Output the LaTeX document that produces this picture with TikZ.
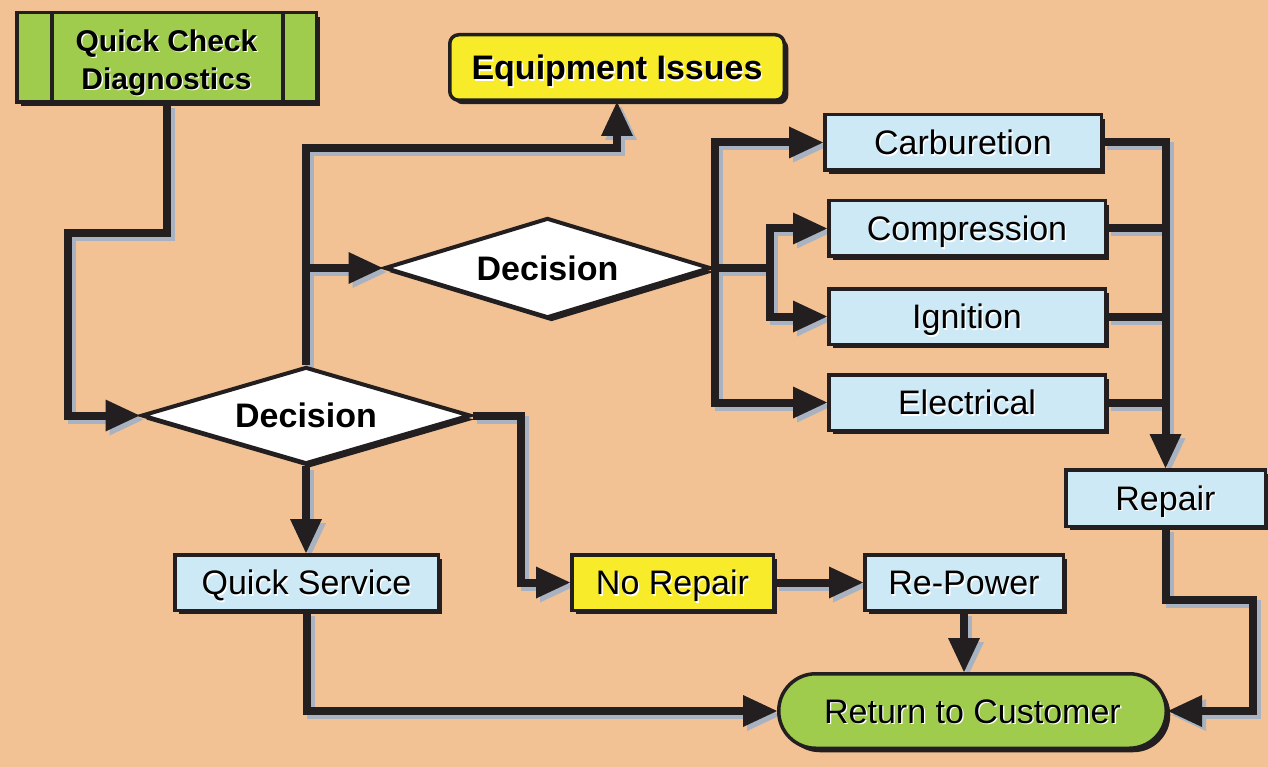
\documentclass[tikz,border=0pt]{standalone}
\usepackage{fontspec}
\setmainfont{Liberation Sans}
\usetikzlibrary{arrows.meta,shapes.geometric,shadows}
\definecolor{bgc}{RGB}{242,194,149}
\definecolor{grn}{RGB}{160,204,78}
\definecolor{ylw}{RGB}{248,236,42}
\definecolor{lbl}{RGB}{204,233,245}
\definecolor{drk}{RGB}{35,31,32}
\definecolor{lshc}{RGB}{168,178,192}
\pgfdeclarelayer{bglayer}
\pgfdeclarelayer{shlayer}
\pgfsetlayers{bglayer,shlayer,main}
\newcommand\st[1]{\leavevmode\rlap{\kern1.3pt\raisebox{-1.3pt}{\color{white}#1}}#1}
\newcommand\conn[2][]{%
  \begin{pgfonlayer}{shlayer}\draw[lineshadow,#1] #2;\end{pgfonlayer}%
  \draw[lineblack,#1] #2;}
\tikzset{
  lineblack/.style={draw=drk,line width=8pt,line join=miter},
  lineshadow/.style={draw=lshc,line width=8pt,line join=miter,transform canvas={xshift=4pt,yshift=-4pt}},
  withtip/.style={-{Triangle[length=34pt 0 0,width=32pt 0 0,line width=0pt 0 0]}},
  box/.style={draw=drk,line width=3.5pt,inner sep=0pt,text height=24.5pt,text depth=0pt,
    font=\fontsize{34}{38}\selectfont,
    drop shadow={shadow xshift=4pt,shadow yshift=-4pt,opacity=1,fill=drk}},
  bluebox/.style={box,fill=lbl,minimum width=276.5pt,minimum height=55.5pt},
  dia/.style={diamond,draw=drk,fill=white,line width=4pt,inner sep=0pt,shape aspect=3.3,
    text height=24.5pt,text depth=0pt,
    font=\bfseries\fontsize{34}{38}\selectfont,
    drop shadow={shadow xshift=4pt,shadow yshift=-4pt,opacity=1,fill=drk}}
}
\begin{document}
\begin{tikzpicture}[x=1pt,y=-1pt]
\useasboundingbox (0,0) rectangle (1268,767);
\begin{pgfonlayer}{bglayer}\fill[bgc] (0,0) rectangle (1268,767);\end{pgfonlayer}

% nodes
\node[box,fill=grn,minimum width=299.5pt,minimum height=89.5pt,align=center,
  text height=64pt,text depth=0pt,
  font=\bfseries\fontsize{30}{38}\selectfont] (qcd) at (166.5,57.5) {\st{Quick Check}\\\st{Diagnostics}};
\draw[drk,line width=3.5pt] ([xshift=37pt]qcd.north west) -- ([xshift=37pt]qcd.south west);
\draw[drk,line width=3.5pt] ([xshift=-35pt]qcd.north east) -- ([xshift=-35pt]qcd.south east);

\node[box,fill=ylw,rounded corners=9pt,minimum width=334.5pt,minimum height=65.5pt,
  font=\bfseries\fontsize{34}{38}\selectfont] (ei) at (617,67.5) {\st{Equipment Issues}};

\node[dia,minimum width=326pt,minimum height=100pt] (d1) at (547.5,268) {\st{Decision}};
\node[dia,minimum width=329pt,minimum height=97pt] (d2) at (306,415.5) {\st{Decision}};

\node[bluebox] (carb) at (963,142.5) {\st{Carburetion}};
\node[bluebox] (comp) at (967,228.5) {\st{Compression}};
\node[bluebox] (ign) at (967,316.5) {\st{Ignition}};
\node[bluebox] (elec) at (967,402.5) {\st{Electrical}};

\node[box,fill=lbl,minimum width=199.5pt,minimum height=56.5pt] (rep) at (1165.5,498) {\st{Repair}};
\node[box,fill=lbl,minimum width=263.5pt,minimum height=55.5pt] (qs) at (306.5,582.5) {\st{Quick Service}};
\node[box,fill=ylw,minimum width=201.5pt,minimum height=55.5pt] (nr) at (672.5,582.5) {\st{No Repair}};
\node[box,fill=lbl,minimum width=198.5pt,minimum height=55.5pt] (rp) at (964,582.5) {\st{Re-Power}};
\node[box,fill=grn,rounded corners=37pt,minimum width=387.5pt,minimum height=74.5pt] (rc) at (972.5,711) {\st{Return to Customer}};

% bend coordinates
\coordinate (q1) at (68,233);
\coordinate (t1) at (715,268);
\coordinate (t2) at (770,268);
\coordinate (r1) at (1253,600);

% connectors
\conn[withtip]{(qcd.south) |- (q1) |- (d2.west)}
\conn[withtip]{(d2.north) |- (617,148) -| (ei.south)}
\conn[withtip]{(d2.north |- d1.west) -- (d1.west)}
\conn[withtip]{(d2.south) -- (d2.south |- qs.north)}
\conn[withtip]{(d2.east) -- ++(48,0) |- (nr.west)}
\conn[withtip]{(nr.east) -- (rp.west)}
\conn[withtip]{(rp.south) -- (rp.south |- rc.north)}
\conn[withtip]{(qs.south) |- (rc.west)}
\conn[withtip]{(d1.east) -- (t1) |- (carb.west)}
\conn[withtip]{(d1.east) -- (t1) |- (elec.west)}
\conn[withtip]{(d1.east) -- (t2) |- (comp.west)}
\conn[withtip]{(t2) |- (ign.west)}
\conn[withtip]{(carb.east) -| (rep.north)}
\conn{(comp.east) -- (comp.east -| rep.north)}
\conn{(ign.east) -- (ign.east -| rep.north)}
\conn{(elec.east) -- (elec.east -| rep.north)}
\conn[withtip]{(rep.south) |- (r1) |- (rc.east)}
\end{tikzpicture}
\end{document}
